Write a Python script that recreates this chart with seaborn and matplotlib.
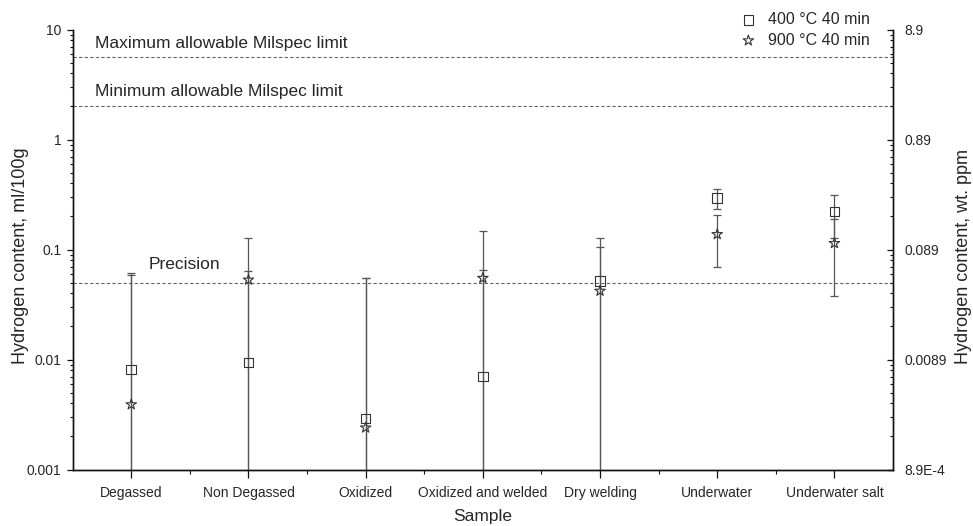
import numpy as np
import pandas as pd
import matplotlib
matplotlib.use("Agg")
import matplotlib.pyplot as plt
import seaborn as sns
from matplotlib.ticker import FixedLocator, NullFormatter

# ---- data ----
samples = ["Degassed", "Non Degassed", "Oxidized", "Oxidized and welded",
           "Dry welding", "Underwater", "Underwater salt"]
h400 = [0.0081, 0.0094, 0.0029, 0.0070, 0.052, 0.295, 0.221]
h400_err = [0.053, 0.055, 0.052, 0.058, 0.076, 0.062, 0.094]
h900 = [0.0039, 0.053, 0.0024, 0.055, 0.042, 0.1375, 0.114]
h900_err = [0.055, 0.074, 0.053, 0.092, 0.063, 0.068, 0.076]
series_labels = ["400 \u00b0C 40 min", "900 \u00b0C 40 min"]
ref_lines = [5.6, 2.0, 0.05]
ref_labels = ["Maximum allowable Milspec limit", "Minimum allowable Milspec limit", "Precision"]
ppm_factor = 0.89
left_ticks = [0.001, 0.01, 0.1, 1, 10]
left_ticklabels = ["0.001", "0.01", "0.1", "1", "10"]
right_ticklabels = ["8.9E-4", "0.0089", "0.089", "0.89", "8.9"]

sns.set_style("ticks")
plt.rcParams["font.family"] = ["Liberation Sans", "DejaVu Sans"]

df = pd.DataFrame({
    "Sample": samples * 2,
    "value": h400 + h900,
    "err": h400_err + h900_err,
    "series": [series_labels[0]] * len(samples) + [series_labels[1]] * len(samples),
})

fig = plt.figure(figsize=(9.73, 5.26), dpi=100)
ax = fig.add_axes([0.0747, 0.1074, 0.8431, 0.8365])

ecol = "#555555"
mcol = "#333333"
xpos = np.arange(len(samples))
for lab, marker, ms in zip(series_labels, ["s", "*"], [48, 62]):
    sub = df[df["series"] == lab]
    ax.errorbar(xpos, sub["value"].values, yerr=sub["err"].values, fmt="none",
                ecolor=ecol, elinewidth=0.9, capsize=3.2, capthick=0.9, zorder=2)
    sns.scatterplot(x=xpos, y=sub["value"].values, marker=marker, s=ms,
                    facecolors="none", edgecolors=mcol, linewidths=0.8,
                    ax=ax, label=lab, zorder=3)

for val in ref_lines:
    ax.axhline(val, color="#666666", lw=0.8, ls=(0, (3, 2)), zorder=1)

ax.set_yscale("log")
ax.set_ylim(0.001, 10)
ax.set_xlim(-0.5, len(samples) - 0.5)
ax.set_yticks(left_ticks)
ax.set_yticklabels(left_ticklabels)
ax.set_xticks(xpos)
ax.set_xticklabels(samples)
ax.xaxis.set_minor_locator(FixedLocator(xpos[:-1] + 0.5))

ax.text(0.027, 0.969, ref_labels[0], transform=ax.transAxes, fontsize=12.5, va="center")
ax.text(0.027, 0.858, ref_labels[1], transform=ax.transAxes, fontsize=12.5, va="center")
ax.text(0.092, 0.465, ref_labels[2], transform=ax.transAxes, fontsize=12.5, va="center")

ax.set_xlabel("Sample", fontsize=12.5, labelpad=6)
ax.set_ylabel("Hydrogen content, ml/100g", fontsize=13, labelpad=0)
ax.yaxis.set_label_coords(-0.053, 0.485)

for s in ["left", "bottom", "right"]:
    ax.spines[s].set_linewidth(1.0)
    ax.spines[s].set_color("#111111")
ax.spines["top"].set_visible(False)
ax.tick_params(axis="both", which="major", labelsize=10, length=4.5, width=0.9, color="#111111")
ax.tick_params(axis="both", which="minor", length=2.5, width=0.8, color="#111111")
ax.tick_params(axis="x", which="major", length=6, pad=6)
ax.tick_params(axis="x", which="minor", length=3)

ax2 = ax.twinx()
ax2.set_yscale("log")
ax2.set_ylim(0.001 * ppm_factor, 10 * ppm_factor)
ax2.yaxis.set_major_locator(FixedLocator([t * ppm_factor for t in left_ticks]))
ax2.set_yticklabels(right_ticklabels)
minors = [m * 10.0 ** k * ppm_factor for k in range(-3, 1) for m in range(2, 10)]
ax2.yaxis.set_minor_locator(FixedLocator(minors))
ax2.yaxis.set_minor_formatter(NullFormatter())
ax2.tick_params(axis="y", which="major", direction="in", labelsize=10, length=4.5, width=0.9, pad=8, color="#111111")
ax2.tick_params(axis="y", which="minor", direction="in", length=2.5, width=0.8, color="#111111")
ax2.set_ylabel("Hydrogen content, wt. ppm", fontsize=13, labelpad=7)
ax2.yaxis.set_label_coords(1.076, 0.485)
ax2.spines["top"].set_visible(False)
for s in ["left", "bottom", "right"]:
    ax2.spines[s].set_linewidth(1.0)
    ax2.spines[s].set_color("#111111")

ax.legend(loc="upper right", bbox_to_anchor=(0.979, 1.054), frameon=False,
          fontsize=11.5, handletextpad=0.6, labelspacing=0.35, handlelength=1.2,
          borderaxespad=0.0)

fig.savefig("out.png", dpi=100)
